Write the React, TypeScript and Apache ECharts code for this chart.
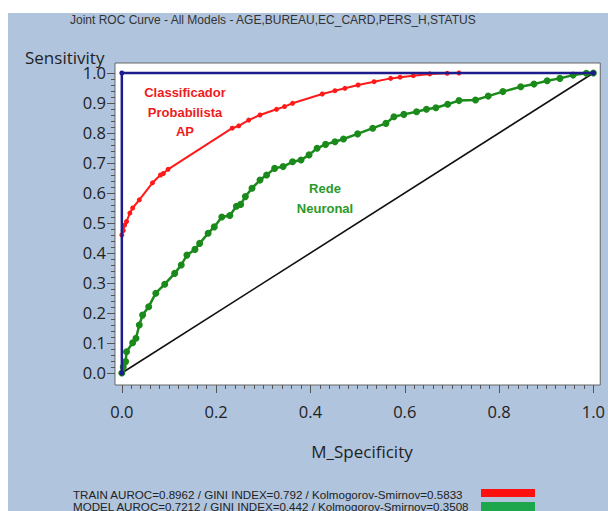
import React, { useEffect, useRef } from "react";
import * as echarts from "echarts";

const trainX = [0, 0.003, 0.006, 0.01, 0.017, 0.023, 0.037, 0.065, 0.082, 0.088, 0.098, 0.234, 0.248, 0.269, 0.293, 0.328, 0.345, 0.362, 0.425, 0.452, 0.473, 0.501, 0.535, 0.57, 0.59, 0.618, 0.653, 0.69, 0.715];
const trainY = [0.46, 0.475, 0.493, 0.505, 0.533, 0.55, 0.577, 0.634, 0.66, 0.665, 0.679, 0.816, 0.824, 0.843, 0.86, 0.879, 0.888, 0.899, 0.93, 0.941, 0.949, 0.96, 0.971, 0.982, 0.986, 0.991, 0.997, 0.999, 1.0];

const modelX = [0, 0.003, 0.008, 0.01, 0.023, 0.03, 0.037, 0.044, 0.057, 0.072, 0.091, 0.112, 0.126, 0.138, 0.155, 0.165, 0.183, 0.196, 0.212, 0.229, 0.243, 0.252, 0.262, 0.276, 0.293, 0.307, 0.324, 0.342, 0.362, 0.38, 0.397, 0.414, 0.432, 0.452, 0.47, 0.5, 0.532, 0.56, 0.577, 0.598, 0.625, 0.646, 0.666, 0.691, 0.715, 0.75, 0.777, 0.808, 0.846, 0.874, 0.902, 0.929, 0.957, 0.985, 1];
const modelY = [0, 0.02, 0.038, 0.071, 0.101, 0.116, 0.16, 0.193, 0.221, 0.266, 0.296, 0.332, 0.36, 0.393, 0.412, 0.432, 0.466, 0.487, 0.52, 0.525, 0.556, 0.562, 0.588, 0.616, 0.643, 0.66, 0.682, 0.688, 0.704, 0.71, 0.727, 0.749, 0.762, 0.771, 0.78, 0.797, 0.816, 0.832, 0.854, 0.862, 0.871, 0.879, 0.884, 0.896, 0.908, 0.91, 0.923, 0.938, 0.954, 0.963, 0.974, 0.982, 0.993, 0.999, 1];

const perfectX = [0, 0, 1];
const perfectY = [0, 1, 1];
const diagX = [0, 1];
const diagY = [0, 1];

const majorTicks = [0, 0.2, 0.4, 0.6, 0.8, 1.0];
const yMajorTicks = [0, 0.1, 0.2, 0.3, 0.4, 0.5, 0.6, 0.7, 0.8, 0.9, 1.0];
const minorTicks = Array.from({ length: 51 }, (_, i) => Math.round(i * 2) / 100);

const title = "Joint ROC Curve - All Models - AGE,BUREAU,EC_CARD,PERS_H,STATUS";
const legendTexts = [
  "TRAIN AUROC=0.8962 / GINI INDEX=0.792 / Kolmogorov-Smirnov=0.5833",
  "MODEL AUROC=0.7212 / GINI INDEX=0.442 / Kolmogorov-Smirnov=0.3508",
];
const legendColors = ["#ff1010", "#1ea64c"];

const zip = (xs: number[], ys: number[]) => xs.map((x, i) => [x, ys[i]]);

export default function App() {
  const ref = useRef<HTMLDivElement>(null);
  useEffect(() => {
    const chart = echarts.init(ref.current!, null, { renderer: "svg" });
    const XMIN = -0.0145, XMAX = 1.0145, YMIN = -0.04, YMAX = 1.0333;
    const tickColor = "#555";
    const labelStyle = { color: "#222", fontSize: 16.5, fontFamily: "Open Sans" };
    const grid = { left: 115, top: 63, width: 496, height: 322, show: true, backgroundColor: "#fff", borderColor: "#666", borderWidth: 1, containLabel: false };
    const hiddenLine = { show: false, onZero: false };
    chart.setOption({
      animation: false,
      backgroundColor: "#fff",
      grid,
      xAxis: [
        {
          type: "value", min: XMIN, max: XMAX, position: "bottom",
          axisLine: hiddenLine, splitLine: { show: false },
          axisTick: { show: true, length: 4, lineStyle: { color: tickColor }, customValues: minorTicks },
          axisLabel: { show: false },
        },
        {
          type: "value", min: XMIN, max: XMAX, position: "bottom",
          axisLine: hiddenLine, splitLine: { show: false },
          axisTick: { show: true, length: 8, lineStyle: { color: tickColor }, customValues: majorTicks },
          axisLabel: { ...labelStyle, margin: 18, customValues: majorTicks, formatter: (v: number) => v.toFixed(1) },
        },
      ],
      yAxis: [
        {
          type: "value", min: YMIN, max: YMAX, position: "left",
          axisLine: hiddenLine, splitLine: { show: false },
          axisTick: { show: true, length: 4, lineStyle: { color: tickColor }, customValues: minorTicks },
          axisLabel: { show: false },
        },
        {
          type: "value", min: YMIN, max: YMAX, position: "left",
          axisLine: hiddenLine, splitLine: { show: false },
          axisTick: { show: true, length: 8, lineStyle: { color: tickColor }, customValues: yMajorTicks },
          axisLabel: { ...labelStyle, margin: 9, customValues: yMajorTicks, formatter: (v: number) => v.toFixed(1) },
        },
      ],
      series: [
        {
          type: "line", data: zip(diagX, diagY), symbol: "none",
          lineStyle: { color: "#111", width: 1.6 }, z: 2,
        },
        {
          type: "line", data: zip(modelX, modelY), symbol: "circle", symbolSize: 7,
          itemStyle: { color: "#1a8a1a" }, lineStyle: { color: "#1a8a1a", width: 2.5 }, z: 3,
        },
        {
          type: "line", data: zip(trainX, trainY), symbol: "circle", symbolSize: 5,
          itemStyle: { color: "#ff1a1a" }, lineStyle: { color: "#ff1a1a", width: 2 }, z: 4,
        },
        {
          type: "line", data: zip(perfectX, perfectY), symbol: "circle", symbolSize: 5,
          itemStyle: { color: "#1c1c8c" }, lineStyle: { color: "#1c1c8c", width: 2.5 }, z: 5,
        },
      ],
      graphic: [
        { type: "rect", z: -10, shape: { x: 8, y: 13, width: 600, height: 498 }, style: { fill: "#b0c4de" }, silent: true },
        { type: "text", x: 70, y: 20, style: { text: title, fill: "#333", font: "12px 'Liberation Sans'", textVerticalAlign: "middle" } },
        { type: "text", x: 25, y: 57, style: { text: "Sensitivity", fill: "#222", font: "17px 'Open Sans'", textVerticalAlign: "middle" } },
        { type: "text", x: 362, y: 451, style: { text: "M_Specificity", fill: "#222", font: "17px 'Open Sans'", textAlign: "center", textVerticalAlign: "middle" } },
        { type: "text", x: 185, y: 92, z: 10, style: { text: "Classificador", fill: "#ee1c1c", font: "bold 13px 'Liberation Sans'", textAlign: "center", textVerticalAlign: "middle" } },
        { type: "text", x: 185, y: 112, z: 10, style: { text: "Probabilista", fill: "#ee1c1c", font: "bold 13px 'Liberation Sans'", textAlign: "center", textVerticalAlign: "middle" } },
        { type: "text", x: 185, y: 131, z: 10, style: { text: "AP", fill: "#ee1c1c", font: "bold 13px 'Liberation Sans'", textAlign: "center", textVerticalAlign: "middle" } },
        { type: "text", x: 325, y: 188, z: 10, style: { text: "Rede", fill: "#2a9a2a", font: "bold 13px 'Liberation Sans'", textAlign: "center", textVerticalAlign: "middle" } },
        { type: "text", x: 325, y: 208, z: 10, style: { text: "Neuronal", fill: "#2a9a2a", font: "bold 13px 'Liberation Sans'", textAlign: "center", textVerticalAlign: "middle" } },
        { type: "text", x: 73, y: 494, style: { text: legendTexts[0], fill: "#222", font: "11.6px 'Liberation Sans'", textVerticalAlign: "middle" } },
        { type: "text", x: 73, y: 506, style: { text: legendTexts[1], fill: "#222", font: "11.6px 'Liberation Sans'", textVerticalAlign: "middle" } },
        { type: "rect", shape: { x: 481, y: 489, width: 54, height: 8 }, style: { fill: legendColors[0] } },
        { type: "rect", shape: { x: 481, y: 502, width: 54, height: 9 }, style: { fill: legendColors[1] } },
      ],
    });
    return () => chart.dispose();
  }, []);
  return <div ref={ref} style={{ position: "absolute", left: 0, top: 0, width: 608, height: 511 }} />;
}
